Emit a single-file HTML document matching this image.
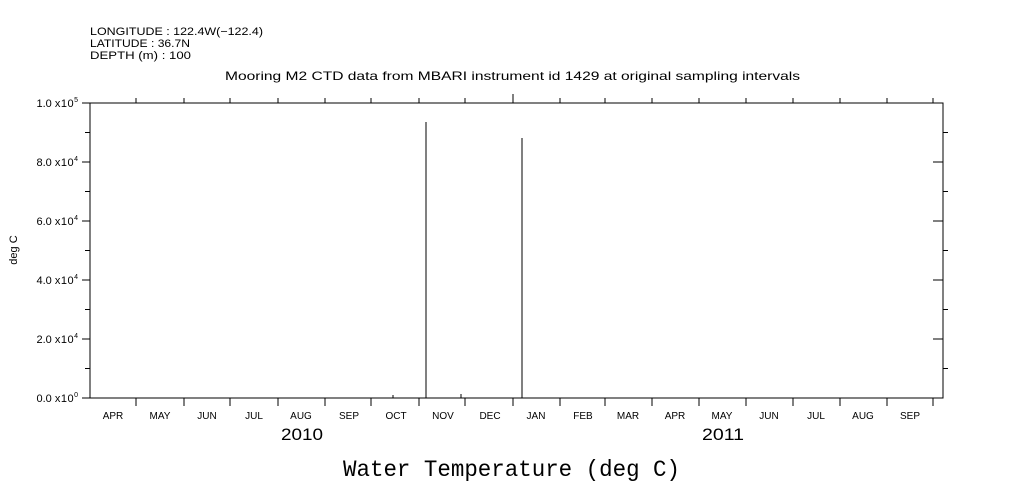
<!DOCTYPE html>
<html><head><style>
body{margin:0;background:#fff;}
svg{display:block;font-family:"Liberation Sans",sans-serif;}
</style></head><body>
<svg width="1009" height="504" viewBox="0 0 1009 504" xmlns="http://www.w3.org/2000/svg">
<g font-size="11" fill="#000">
<text x="90" y="35" textLength="173" lengthAdjust="spacingAndGlyphs">LONGITUDE : 122.4W(−122.4)</text>
<text x="90" y="47" textLength="100" lengthAdjust="spacingAndGlyphs">LATITUDE : 36.7N</text>
<text x="90" y="59" textLength="101" lengthAdjust="spacingAndGlyphs">DEPTH (m) : 100</text>
<text x="225" y="80" font-size="12" textLength="575" lengthAdjust="spacingAndGlyphs">Mooring M2 CTD data from MBARI instrument id 1429 at original sampling intervals</text>
</g>
<g stroke="#000" stroke-width="1" fill="none" shape-rendering="crispEdges">
<rect x="90" y="103" width="853" height="295"/>
<path d="M82 103H90M82 162H90M82 221H90M82 280H90M82 339H90M82 398H90
M85 132.5H90M85 191.5H90M85 250.5H90M85 309.5H90M85 368.5H90
M933 103H943M933 162H943M933 221H943M933 280H943M933 339H943M933 398H943
M943 132.5H948M943 191.5H948M943 250.5H948M943 309.5H948M943 368.5H948"/>
<path d="M136 398V406M184 398V406M230 398V406M278 398V406M325 398V406M371 398V406M419 398V406M465 398V406M513 398V406M560 398V406M605 398V406M652 398V406M699 398V406M746 398V406M793 398V406M840 398V406M887 398V406M933 398V406
M136 103V98M184 103V98M230 103V98M278 103V98M325 103V98M371 103V98M419 103V98M465 103V98M513 103V94M560 103V98M605 103V98M652 103V98M699 103V98M746 103V98M793 103V98M840 103V98M887 103V98M933 103V98"/>
<path d="M426 122V398M522 138V398M393 395V398M461 394V398"/>
</g>
<g font-size="11" fill="#000" text-anchor="end">
<text x="78" y="107">1.0 <tspan letter-spacing="0.5">x10</tspan><tspan font-size="7" dy="-5">5</tspan></text>
<text x="78" y="166">8.0 <tspan letter-spacing="0.5">x10</tspan><tspan font-size="7" dy="-5">4</tspan></text>
<text x="78" y="225">6.0 <tspan letter-spacing="0.5">x10</tspan><tspan font-size="7" dy="-5">4</tspan></text>
<text x="78" y="284">4.0 <tspan letter-spacing="0.5">x10</tspan><tspan font-size="7" dy="-5">4</tspan></text>
<text x="78" y="343">2.0 <tspan letter-spacing="0.5">x10</tspan><tspan font-size="7" dy="-5">4</tspan></text>
<text x="78" y="402">0.0 <tspan letter-spacing="0.5">x10</tspan><tspan font-size="7" dy="-5">0</tspan></text>
</g>
<text x="17" y="250" font-size="11" text-anchor="middle" transform="rotate(-90 17 250)">deg C</text>
<g font-size="10" text-anchor="middle">
<text x="113" y="419">APR</text><text x="160" y="419">MAY</text><text x="207" y="419">JUN</text><text x="254" y="419">JUL</text><text x="301" y="419">AUG</text><text x="349" y="419">SEP</text><text x="396" y="419">OCT</text><text x="443" y="419">NOV</text><text x="490" y="419">DEC</text><text x="536" y="419">JAN</text><text x="583" y="419">FEB</text><text x="628" y="419">MAR</text><text x="675" y="419">APR</text><text x="722" y="419">MAY</text><text x="769" y="419">JUN</text><text x="816" y="419">JUL</text><text x="863" y="419">AUG</text><text x="910" y="419">SEP</text>
</g>
<text x="302" y="440" font-size="17" text-anchor="middle" textLength="42" lengthAdjust="spacingAndGlyphs">2010</text>
<text x="723" y="440" font-size="17" text-anchor="middle" textLength="42" lengthAdjust="spacingAndGlyphs">2011</text>
<text x="343" y="476" font-size="23" textLength="337" lengthAdjust="spacingAndGlyphs" font-family="Liberation Mono,monospace">Water Temperature (deg C)</text>
</svg>
</body></html>
